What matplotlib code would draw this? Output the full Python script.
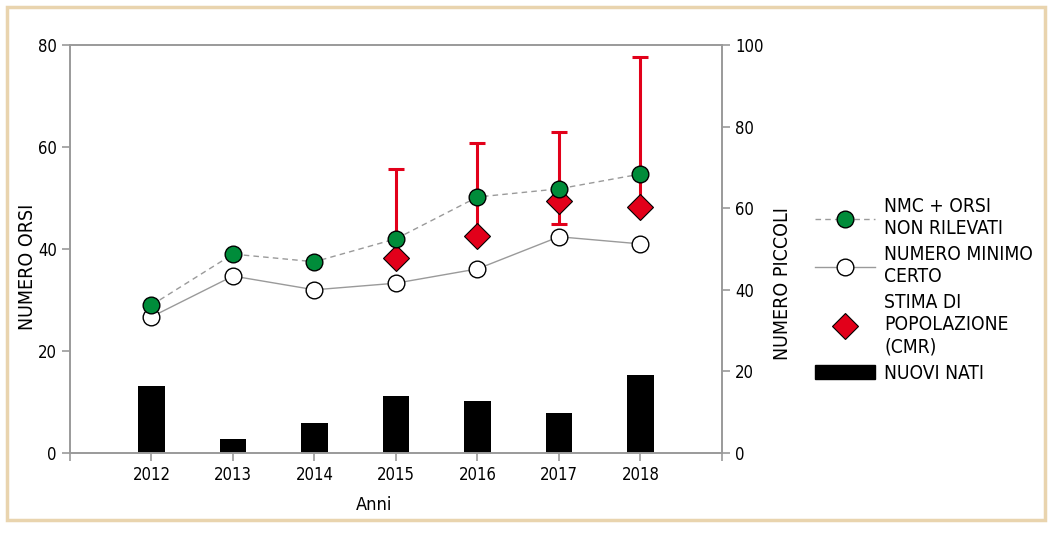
import matplotlib
matplotlib.use("Agg")
import matplotlib.pyplot as plt
from matplotlib.patches import Rectangle
from matplotlib.lines import Line2D
import numpy as np

plt.rcParams['font.family'] = ['DejaVu Sans']
plt.rcParams['font.stretch'] = 'condensed'

# dati
anni = [2012, 2013, 2014, 2015, 2016, 2017, 2018]
nmc_non_rilevati = [29, 39, 37.5, 42, 50.2, 51.8, 54.7]
numero_minimo = [26.7, 34.7, 32, 33.3, 36.1, 42.4, 41]
anni_cmr = [2015, 2016, 2017, 2018]
stima_cmr = [38.3, 42.5, 49.4, 48.2]
cmr_basso = [38.0, 42.2, 44.9, 47.9]
cmr_alto = [55.7, 60.8, 62.9, 77.6]
nuovi_nati = [16.4, 3.5, 7.3, 14, 12.7, 9.8, 19]

grigio = '#9a9a9a'
verde = '#008c3a'
rosso = '#e2001a'

fig = plt.figure(figsize=(10.54, 5.45), dpi=100)
ax2 = fig.add_axes([0.0664, 0.1688, 0.6186, 0.7486])
ax = ax2.twinx()
ax.yaxis.tick_left()
ax.yaxis.set_label_position('left')
ax2.yaxis.tick_right()
ax2.yaxis.set_label_position('right')

# barre nuovi nati (asse destro)
ax2.bar(anni, nuovi_nati, width=0.33, color='black', zorder=1)
ax2.set_ylim(0, 100)
ax2.set_yticks([0, 20, 40, 60, 80, 100])

# linee (asse sinistro)
err = [np.array(stima_cmr) - np.array(cmr_basso), np.array(cmr_alto) - np.array(stima_cmr)]
ax.errorbar(anni_cmr, stima_cmr, yerr=err, fmt='none', ecolor=rosso,
            elinewidth=2.2, capsize=5.5, capthick=2.2, zorder=2)
ax.plot(anni, numero_minimo, color=grigio, lw=1, marker='o', ms=12,
        mfc='white', mec='black', mew=1, zorder=3)
ax.plot(anni_cmr, stima_cmr, ls='none', marker='D', ms=13, mfc=rosso,
        mec='black', mew=0.8, zorder=4)
ax.plot(anni, nmc_non_rilevati, color=grigio, lw=1, ls=(0, (4, 3)), marker='o',
        ms=12, mfc=verde, mec='black', mew=1, zorder=5)
ax.set_ylim(0, 80)
ax.set_yticks([0, 20, 40, 60, 80])
ax.set_xlim(2011, 2019)
ax2.set_xticks(range(2011, 2020))
ax2.set_xticklabels([''] + [str(a) for a in anni] + [''])

for a in (ax, ax2):
    for s in a.spines.values():
        s.set_color(grigio)
        s.set_linewidth(1.2)
    a.tick_params(colors=grigio, labelcolor='black', labelsize=12, length=6, width=1.2)

ax.set_ylabel('NUMERO ORSI', fontsize=14)
ax.yaxis.set_label_coords(-0.05, 0.456)
ax2.set_ylabel('NUMERO PICCOLI', fontsize=14)
ax2.yaxis.set_label_coords(1.079, 0.416)
ax2.set_xlabel('Anni', fontsize=13)
ax2.xaxis.set_label_coords(0.466, -0.105)

handles = [
    Line2D([], [], color=grigio, lw=1, ls=(0, (4, 3)), marker='o', ms=12,
           mfc=verde, mec='black'),
    Line2D([], [], color=grigio, lw=1, marker='o', ms=12, mfc='white', mec='black'),
    Line2D([], [], ls='none', marker='D', ms=13, mfc=rosso, mec='black', mew=0.8),
    Rectangle((0, 0), 1, 1, color='black'),
]
labels = ['NMC + ORSI\nNON RILEVATI', 'NUMERO MINIMO\nCERTO',
          'STIMA DI\nPOPOLAZIONE\n(CMR)', 'NUOVI NATI']
fig.legend(handles, labels, loc='upper left', bbox_to_anchor=(0.7735, 0.638),
           frameon=False, fontsize=13.8, handlelength=3.1, handletextpad=0.5,
           labelspacing=0.37, borderpad=0, borderaxespad=0)

# cornice
fig.patches.append(Rectangle((0.0066, 0.046), 0.9848, 0.941, transform=fig.transFigure,
                             fill=False, ec='#e9d4ae', lw=2.5))

fig.savefig('out.png', dpi=100)
